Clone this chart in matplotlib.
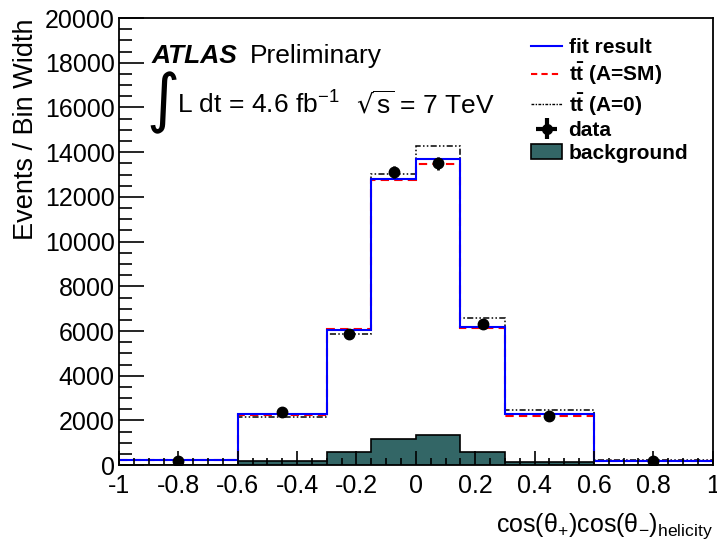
import numpy as np
import matplotlib
matplotlib.use("Agg")
import matplotlib.pyplot as plt
from matplotlib.ticker import MultipleLocator, FuncFormatter
from matplotlib.patches import Patch
from matplotlib.lines import Line2D

plt.rcParams['font.family'] = ['Liberation Sans', 'DejaVu Sans']
plt.rcParams['mathtext.default'] = 'regular'
plt.rcParams['axes.unicode_minus'] = False

# bin edges of cos(theta+)cos(theta-)
edges = [-1, -0.6, -0.3, -0.15, 0, 0.15, 0.3, 0.6, 1]
centers = [-0.8, -0.45, -0.225, -0.075, 0.075, 0.225, 0.45, 0.8]

# events / bin width
fit_result = [230, 2290, 6050, 12800, 13680, 6200, 2280, 200]
tt_sm = [230, 2260, 6100, 12740, 13480, 6150, 2200, 200]
tt_a0 = [240, 2140, 5880, 13020, 14290, 6600, 2480, 230]
background = [0, 190, 600, 1190, 1370, 600, 150, 0]
data = [190, 2390, 5850, 13130, 13500, 6300, 2210, 190]
data_err = [60, 120, 190, 270, 280, 190, 120, 60]

bkg_color = '#336666'

fig = plt.figure(figsize=(7.17, 5.46), dpi=100)
ax = fig.add_axes([0.166, 0.148, 0.828, 0.819])

# background filled histogram
ax.stairs(background, edges, fill=True, color=bkg_color, baseline=0)
ax.stairs(background, edges, color='black', lw=1.2, baseline=None)

# model curves
ax.stairs(tt_a0, edges, color='black', lw=1.1, ls=(0, (4, 1.5, 1, 1.5, 1, 1.5)), baseline=None)
ax.stairs(tt_sm, edges, color='red', lw=1.5, ls=(0, (4, 2.5)), baseline=None)
ax.stairs(fit_result, edges, color='blue', lw=1.5, baseline=None)

# data
ax.errorbar(centers, data, yerr=data_err, fmt='o', color='black',
            ms=7.5, elinewidth=2, capsize=0, zorder=5)

ax.set_xlim(-1, 1)
ax.set_ylim(0, 20000)
ax.xaxis.set_major_locator(MultipleLocator(0.2))
ax.xaxis.set_minor_locator(MultipleLocator(0.05))
ax.yaxis.set_major_locator(MultipleLocator(2000))
ax.yaxis.set_minor_locator(MultipleLocator(500))
ax.xaxis.set_major_formatter(FuncFormatter(lambda v, p: f'{v:g}' if abs(v) > 1e-9 else '0'))
ax.tick_params(which='both', direction='in', top=False, right=False, labelsize=18)
ax.tick_params(axis='x', which='major', length=10, width=1.2, pad=6)
ax.tick_params(axis='x', which='minor', length=5, width=1.2)
ax.tick_params(axis='y', which='major', length=18, width=1.2, pad=3)
ax.tick_params(axis='y', which='minor', length=9, width=1.2)
for s in ax.spines.values():
    s.set_linewidth(1.3)

ax.set_ylabel('Events / Bin Width', fontsize=19.5, loc='top', labelpad=4)
ax.set_xlabel('cos(θ$_{+}$)cos(θ$_{-}$)$_{helicity}$', fontsize=18, loc='right', labelpad=10)

# ATLAS label
ax.text(0.054, 0.9, 'ATLAS', transform=ax.transAxes, fontsize=19,
        fontweight='bold', fontstyle='italic', va='baseline')
ax.text(0.22, 0.9, 'Preliminary', transform=ax.transAxes, fontsize=19, va='baseline')
ax.text(0.046, 0.772, '∫', transform=ax.transAxes, fontsize=46, family='DejaVu Sans',
        va='baseline')
ax.text(0.097, 0.786, 'L dt = 4.6 fb$^{-1}$', transform=ax.transAxes, fontsize=19, va='baseline')
ax.text(0.40, 0.786, r'$\sqrt{s}$ = 7 TeV', transform=ax.transAxes, fontsize=19, va='baseline')

# legend
data_handle = ax.errorbar([], [], xerr=1, yerr=1, fmt='o', color='black', ms=7, elinewidth=3)
handles = [
    Line2D([], [], color='blue', lw=1.5),
    Line2D([], [], color='red', lw=1.5, ls=(0, (3, 2))),
    Line2D([], [], color='black', lw=1, ls=(0, (2, 1, 1, 1))),
    data_handle,
    Patch(facecolor=bkg_color, edgecolor='black', lw=1.2),
]
labels = ['fit result', r't$\bar{t}$ (A=SM)', r't$\bar{t}$ (A=0)', 'data', 'background']
ax.legend(handles, labels, loc='upper left', bbox_to_anchor=(0.68, 0.973), frameon=False,
          prop={'weight': 'bold', 'size': 15}, handlelength=1.5, handletextpad=0.3,
          labelspacing=0.17, borderaxespad=0)

fig.savefig('out.png', dpi=100)
